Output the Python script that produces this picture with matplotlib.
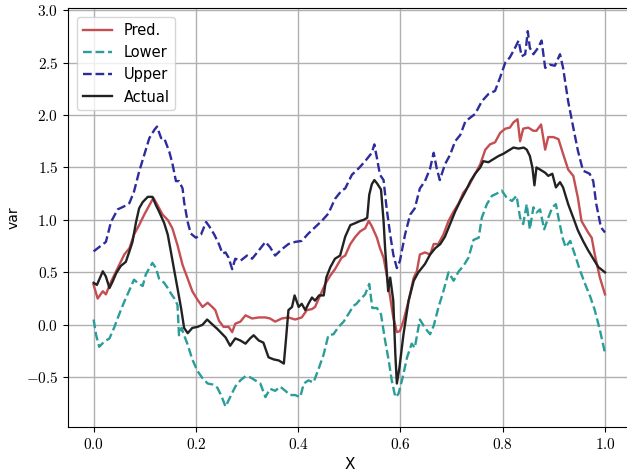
import matplotlib
matplotlib.use("Agg")
import matplotlib.pyplot as plt
from matplotlib.ticker import FuncFormatter

# values
x_pred = [0.0, 0.008, 0.018, 0.024, 0.034, 0.047, 0.06, 0.07, 0.079, 0.089, 0.099,
          0.109, 0.117, 0.125, 0.135, 0.145, 0.154, 0.164, 0.174, 0.184, 0.193,
          0.203, 0.213, 0.223, 0.232, 0.238, 0.245, 0.254, 0.264, 0.271, 0.277,
          0.287, 0.297, 0.31, 0.323, 0.336, 0.345, 0.355, 0.368, 0.381, 0.394,
          0.407, 0.417, 0.427, 0.433, 0.443, 0.453, 0.463, 0.472, 0.485, 0.492,
          0.502, 0.512, 0.521, 0.531, 0.538, 0.544, 0.554, 0.56, 0.567, 0.573,
          0.58, 0.586, 0.593, 0.599, 0.606, 0.616, 0.626, 0.632, 0.638, 0.648,
          0.658, 0.665, 0.674, 0.684, 0.694, 0.704, 0.714, 0.723, 0.733, 0.744,
          0.756, 0.766, 0.775, 0.785, 0.795, 0.805, 0.814, 0.821, 0.829, 0.834,
          0.84, 0.85, 0.86, 0.866, 0.875, 0.883, 0.889, 0.899, 0.909, 0.918,
          0.928, 0.938, 0.947, 0.954, 0.967, 0.974, 0.98, 0.99, 1.0]
y_pred = [0.38, 0.25, 0.32, 0.29, 0.41, 0.54, 0.67, 0.73, 0.86, 0.95, 1.05,
          1.14, 1.21, 1.14, 1.05, 1.00, 0.92, 0.76, 0.57, 0.44, 0.32,
          0.24, 0.17, 0.21, 0.17, 0.14, 0.04, -0.02, -0.02, -0.07, 0.01,
          0.03, 0.09, 0.06, 0.07, 0.07, 0.06, 0.03, 0.06, 0.07, 0.05,
          0.07, 0.14, 0.15, 0.17, 0.28, 0.39, 0.47, 0.53, 0.64, 0.66,
          0.77, 0.84, 0.89, 0.92, 0.99, 0.94, 0.83, 0.73, 0.64, 0.48,
          0.26, 0.07, -0.07, -0.06, 0.04, 0.23, 0.45, 0.51, 0.67, 0.69,
          0.67, 0.77, 0.77, 0.86, 0.99, 1.08, 1.16, 1.26, 1.32, 1.42,
          1.53, 1.67, 1.72, 1.74, 1.83, 1.87, 1.88, 1.93, 1.96, 1.75,
          1.87, 1.88, 1.85, 1.85, 1.91, 1.67, 1.79, 1.79, 1.77, 1.63,
          1.48, 1.42, 1.21, 0.99, 0.88, 0.83, 0.67, 0.45, 0.29]

x_lower = [0.0, 0.005, 0.011, 0.021, 0.031, 0.04, 0.05, 0.06, 0.07, 0.079, 0.086,
           0.096, 0.102, 0.109, 0.115, 0.122, 0.128, 0.138, 0.145, 0.151, 0.158,
           0.164, 0.167, 0.172, 0.177, 0.184, 0.193, 0.203, 0.213, 0.223, 0.233,
           0.242, 0.25, 0.258, 0.267, 0.277, 0.287, 0.297, 0.306, 0.316, 0.326,
           0.336, 0.345, 0.355, 0.365, 0.375, 0.384, 0.394, 0.404, 0.411, 0.42,
           0.43, 0.44, 0.45, 0.459, 0.469, 0.479, 0.489, 0.498, 0.508, 0.514,
           0.521, 0.531, 0.539, 0.545, 0.554, 0.562, 0.57, 0.577, 0.583, 0.59,
           0.596, 0.603, 0.613, 0.622, 0.628, 0.638, 0.648, 0.658, 0.665, 0.674,
           0.684, 0.694, 0.704, 0.714, 0.723, 0.733, 0.743, 0.753, 0.759, 0.769,
           0.779, 0.788, 0.798, 0.808, 0.818, 0.827, 0.834, 0.84, 0.847, 0.853,
           0.86, 0.866, 0.873, 0.881, 0.889, 0.897, 0.904, 0.909, 0.917, 0.923,
           0.932, 0.941, 0.951, 0.961, 0.971, 0.98, 0.99, 1.0]
y_lower = [0.05, -0.10, -0.21, -0.16, -0.13, -0.03, 0.10, 0.22, 0.33, 0.43, 0.40,
           0.37, 0.48, 0.54, 0.59, 0.54, 0.44, 0.40, 0.35, 0.30, 0.25,
           0.19, -0.10, -0.03, -0.10, -0.19, -0.33, -0.44, -0.51, -0.56, -0.57,
           -0.60, -0.68, -0.78, -0.69, -0.59, -0.53, -0.49, -0.50, -0.53, -0.56,
           -0.69, -0.61, -0.63, -0.59, -0.63, -0.67, -0.67, -0.69, -0.56, -0.53,
           -0.55, -0.42, -0.28, -0.10, -0.09, -0.02, 0.03, 0.10, 0.18, 0.20,
           0.24, 0.29, 0.39, 0.16, 0.16, 0.10, -0.15, -0.34, -0.53, -0.69,
           -0.66, -0.53, -0.31, -0.18, -0.22, 0.05, -0.03, -0.09, -0.01, 0.16,
           0.32, 0.50, 0.42, 0.51, 0.56, 0.64, 0.81, 0.83, 1.02, 1.15,
           1.23, 1.25, 1.28, 1.21, 1.18, 1.23, 1.02, 0.96, 1.15, 0.91,
           1.12, 1.07, 1.10, 0.91, 1.02, 1.12, 1.15, 1.02, 0.83, 0.74,
           0.80, 0.67, 0.52, 0.39, 0.27, 0.14, -0.05, -0.27]

x_upper = [0.0, 0.008, 0.024, 0.034, 0.047, 0.06, 0.07, 0.079, 0.089, 0.099, 0.109,
           0.119, 0.124, 0.132, 0.138, 0.148, 0.154, 0.161, 0.167, 0.174, 0.177,
           0.184, 0.19, 0.2, 0.21, 0.22, 0.226, 0.236, 0.245, 0.252, 0.258,
           0.264, 0.271, 0.277, 0.287, 0.3, 0.31, 0.32, 0.336, 0.345, 0.355,
           0.368, 0.381, 0.394, 0.407, 0.42, 0.433, 0.446, 0.459, 0.472, 0.485,
           0.492, 0.505, 0.518, 0.531, 0.544, 0.549, 0.554, 0.56, 0.567, 0.573,
           0.58, 0.586, 0.593, 0.599, 0.609, 0.619, 0.628, 0.638, 0.648, 0.658,
           0.665, 0.671, 0.677, 0.687, 0.697, 0.707, 0.717, 0.727, 0.746, 0.759,
           0.772, 0.785, 0.795, 0.805, 0.814, 0.824, 0.831, 0.837, 0.844, 0.849,
           0.853, 0.86, 0.869, 0.876, 0.883, 0.892, 0.902, 0.912, 0.918, 0.928,
           0.938, 0.947, 0.957, 0.97, 0.977, 0.983, 0.992, 1.0]
y_upper = [0.70, 0.73, 0.79, 0.98, 1.10, 1.13, 1.16, 1.27, 1.46, 1.62, 1.78,
           1.86, 1.89, 1.78, 1.78, 1.65, 1.54, 1.37, 1.37, 1.30, 1.17,
           0.98, 0.87, 0.83, 0.86, 0.98, 0.94, 0.86, 0.77, 0.68, 0.69,
           0.64, 0.53, 0.63, 0.61, 0.66, 0.63, 0.69, 0.79, 0.74, 0.66,
           0.72, 0.77, 0.79, 0.80, 0.87, 0.93, 0.99, 1.06, 1.20, 1.28,
           1.30, 1.43, 1.49, 1.56, 1.64, 1.72, 1.59, 1.43, 1.38, 1.11,
           0.86, 0.67, 0.54, 0.61, 0.86, 1.05, 1.11, 1.30, 1.37, 1.49,
           1.64, 1.49, 1.38, 1.53, 1.62, 1.75, 1.81, 1.94, 2.01, 2.13,
           2.20, 2.23, 2.36, 2.50, 2.55, 2.64, 2.71, 2.56, 2.58, 2.80,
           2.64, 2.58, 2.64, 2.71, 2.45, 2.48, 2.47, 2.58, 2.45, 2.13,
           1.88, 1.66, 1.47, 1.44, 1.37, 1.15, 0.93, 0.88]

x_actual = [0.0, 0.0065, 0.018, 0.024, 0.031, 0.037, 0.044, 0.053, 0.063, 0.07, 0.076,
            0.083, 0.089, 0.096, 0.106, 0.115, 0.122, 0.128, 0.138, 0.145, 0.151,
            0.158, 0.164, 0.171, 0.177, 0.184, 0.193, 0.203, 0.213, 0.222, 0.233,
            0.242, 0.248, 0.258, 0.267, 0.277, 0.287, 0.297, 0.306, 0.313, 0.323,
            0.332, 0.342, 0.352, 0.362, 0.372, 0.376, 0.381, 0.388, 0.393, 0.401,
            0.407, 0.414, 0.42, 0.427, 0.433, 0.441, 0.45, 0.455, 0.463, 0.472,
            0.482, 0.492, 0.502, 0.512, 0.521, 0.528, 0.535, 0.539, 0.544, 0.549,
            0.554, 0.562, 0.567, 0.57, 0.576, 0.58, 0.586, 0.59, 0.593, 0.598,
            0.606, 0.616, 0.626, 0.635, 0.648, 0.658, 0.668, 0.678, 0.687, 0.697,
            0.707, 0.717, 0.727, 0.737, 0.746, 0.756, 0.762, 0.772, 0.782, 0.792,
            0.801, 0.811, 0.821, 0.831, 0.841, 0.847, 0.853, 0.858, 0.862, 0.866,
            0.873, 0.883, 0.889, 0.897, 0.904, 0.912, 0.918, 0.928, 0.938, 0.947,
            0.957, 0.967, 0.977, 0.987, 1.0]
y_actual = [0.40, 0.38, 0.51, 0.46, 0.35, 0.41, 0.49, 0.56, 0.60, 0.70, 0.79,
            0.98, 1.11, 1.17, 1.22, 1.22, 1.14, 1.08, 0.97, 0.86, 0.70,
            0.51, 0.35, 0.16, -0.03, -0.08, -0.03, -0.02, 0.00, 0.05, 0.00,
            -0.04, -0.07, -0.12, -0.20, -0.13, -0.15, -0.18, -0.13, -0.10, -0.15,
            -0.17, -0.31, -0.33, -0.34, -0.37, -0.15, 0.14, 0.17, 0.28, 0.17,
            0.20, 0.14, 0.20, 0.26, 0.23, 0.28, 0.28, 0.45, 0.55, 0.63,
            0.66, 0.84, 0.95, 0.97, 0.99, 1.00, 1.02, 1.24, 1.34, 1.38,
            1.35, 1.29, 0.99, 0.73, 0.32, 0.45, 0.23, -0.28, -0.56, -0.41,
            -0.09, 0.23, 0.42, 0.50, 0.58, 0.67, 0.73, 0.77, 0.84, 0.96,
            1.08, 1.18, 1.27, 1.37, 1.44, 1.50, 1.56, 1.55, 1.58, 1.61,
            1.63, 1.66, 1.69, 1.68, 1.69, 1.67, 1.61, 1.50, 1.33, 1.50,
            1.48, 1.45, 1.42, 1.44, 1.31, 1.36, 1.31, 1.15, 1.02, 0.90,
            0.80, 0.71, 0.63, 0.55, 0.50]

plt.rcParams.update({
    "font.family": "DejaVu Sans",
    "font.size": 10,
    "mathtext.fontset": "cm",
})

fig = plt.figure(figsize=(6.27, 4.75), dpi=100)
ax = fig.add_axes([0.1085, 0.101, 0.8972, 0.882])

ax.plot(x_pred, y_pred, color="#c44e52", lw=1.7, label="Pred.")
ax.plot(x_lower, y_lower, color="#2a9d98", lw=1.7, ls="--", label="Lower")
ax.plot(x_upper, y_upper, color="#2c2c9c", lw=1.7, ls="--", label="Upper")
ax.plot(x_actual, y_actual, color="#222222", lw=1.7, label="Actual")

ax.set_xlim(-0.05, 1.05)
ax.set_ylim(-0.975, 3.02)
ax.set_xticks([0.0, 0.2, 0.4, 0.6, 0.8, 1.0])
ax.set_yticks([-0.5, 0.0, 0.5, 1.0, 1.5, 2.0, 2.5, 3.0])
fmt = FuncFormatter(lambda v, pos: f"${v:.1f}$")
ax.xaxis.set_major_formatter(fmt)
ax.yaxis.set_major_formatter(fmt)
ax.tick_params(labelsize=11)
ax.grid(color="#b0b0b0", lw=1.0)
ax.set_axisbelow(True)
ax.set_xlabel("X", fontsize=11)
ax.set_ylabel("var", fontsize=10)
ax.legend(loc="upper left", fontsize=10.5, borderaxespad=0.6)

fig.savefig("out.png", dpi=100)
